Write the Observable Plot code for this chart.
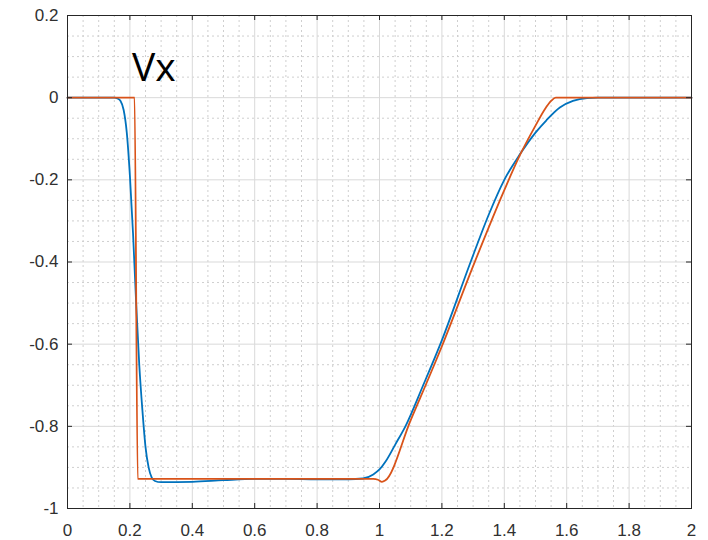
<!DOCTYPE html>
<html>
<head>
<meta charset="utf-8">
<script src="https://cdn.jsdelivr.net/npm/d3@7"></script>
<script src="https://cdn.jsdelivr.net/npm/@observablehq/plot@0.6"></script>
<style>
  html, body { margin: 0; padding: 0; background: #ffffff; }
  #chart { width: 708px; height: 540px; }
</style>
</head>
<body>
<div id="chart"></div>
<script>
// ---- Data ----
const blueX = [0, 0.15, 0.16, 0.17, 0.18, 0.19, 0.20, 0.21, 0.22, 0.23, 0.24, 0.25, 0.26, 0.27, 0.28, 0.30, 0.40, 0.50, 0.60, 0.70, 0.80, 0.90, 0.947, 0.98, 1.00, 1.02, 1.05, 1.083, 1.14, 1.195, 1.292, 1.35, 1.40, 1.45, 1.50, 1.535, 1.578, 1.62, 1.665, 1.70, 2.00];
const blueY = [0, 0, -0.002, -0.008, -0.03, -0.085, -0.19, -0.33, -0.50, -0.65, -0.76, -0.85, -0.90, -0.925, -0.933, -0.936, -0.935, -0.931, -0.928, -0.928, -0.929, -0.929, -0.927, -0.917, -0.905, -0.885, -0.845, -0.80, -0.70, -0.60, -0.40, -0.285, -0.20, -0.138, -0.085, -0.055, -0.024, -0.008, -0.001, 0, 0];

const orangeX = [0, 0.215, 0.225, 0.60, 0.98, 0.995, 1.008, 1.018, 1.10, 1.20, 1.30, 1.40, 1.45, 1.50, 1.53, 1.55, 1.565, 2.00];
const orangeY = [0, 0, -0.928, -0.928, -0.928, -0.930, -0.935, -0.932, -0.785, -0.605, -0.41, -0.225, -0.14, -0.068, -0.028, -0.008, 0, 0];

const xTicks = [0, 0.2, 0.4, 0.6, 0.8, 1, 1.2, 1.4, 1.6, 1.8, 2];
const xTickLabels = ["0", "0.2", "0.4", "0.6", "0.8", "1", "1.2", "1.4", "1.6", "1.8", "2"];
const yTicks = [-1, -0.8, -0.6, -0.4, -0.2, 0, 0.2];
const yTickLabels = ["-1", "-0.8", "-0.6", "-0.4", "-0.2", "0", "0.2"];
const annotation = ["Vx"];

// ---- Build tables ----
const blue = blueX.map((x, i) => ({x, y: blueY[i]}));
const orange = orangeX.map((x, i) => ({x, y: orangeY[i]}));

function minorBetween(ticks) {
  const out = [];
  for (let i = 0; i < ticks.length - 1; i++) {
    const a = ticks[i], b = ticks[i + 1];
    for (let k = 1; k < 4; k++) out.push(a + (b - a) * k / 4);
  }
  return out;
}
const xMinor = minorBetween(xTicks);
const yMinor = minorBetween(yTicks);

const W = 708, H = 540;
const mL = 67, mR = 17, mT = 15, mB = 32;
const innerW = W - mL - mR, innerH = H - mT - mB;
const tickLen = 5;
const axisColor = "#262626";

const chart = Plot.plot({
  width: W,
  height: H,
  marginLeft: mL,
  marginRight: mR,
  marginTop: mT,
  marginBottom: mB,
  x: {domain: [0, 2], label: null},
  y: {domain: [-1, 0.2], label: null},
  style: {fontFamily: "'Liberation Sans', Arial, sans-serif", background: "#ffffff", color: axisColor},
  marks: [
    Plot.ruleX(xMinor, {stroke: "#cfcfcf", strokeDasharray: "2,3", strokeWidth: 1}),
    Plot.ruleY(yMinor, {stroke: "#cfcfcf", strokeDasharray: "2,3", strokeWidth: 1}),
    Plot.ruleX(xTicks, {stroke: "#d9d9d9", strokeWidth: 1}),
    Plot.ruleY(yTicks, {stroke: "#d9d9d9", strokeWidth: 1}),
    Plot.line(blue, {x: "x", y: "y", stroke: "#0072BD", strokeWidth: 1.8, curve: "monotone-x"}),
    Plot.line(orange, {x: "x", y: "y", stroke: "#D95319", strokeWidth: 1.8, curve: "monotone-x"}),
    Plot.tickX(xTicks, {x: d => d, insetTop: innerH - tickLen, stroke: axisColor}),
    Plot.tickX(xTicks, {x: d => d, insetBottom: innerH - tickLen, stroke: axisColor}),
    Plot.tickY(yTicks, {y: d => d, insetRight: innerW - tickLen, stroke: axisColor}),
    Plot.tickY(yTicks, {y: d => d, insetLeft: innerW - tickLen, stroke: axisColor}),
    Plot.frame({stroke: axisColor, strokeWidth: 1}),
    Plot.axisX({ticks: xTicks, tickSize: 0, tickPadding: 15, fontSize: 17, fill: "#303030", label: null,
      tickFormat: d => xTickLabels[xTicks.indexOf(d)]}),
    Plot.axisY({ticks: yTicks, tickSize: 0, tickPadding: 9, fontSize: 17, fill: "#303030", label: null,
      tickFormat: d => yTickLabels[yTicks.indexOf(d)]}),
    Plot.text(annotation, {x: 0.207, y: 0.041, text: d => d, textAnchor: "start", lineAnchor: "bottom",
      fontSize: 39, fill: "#000000", fontFamily: "'Open Sans', 'Liberation Sans', sans-serif"})
  ]
});
document.getElementById("chart").appendChild(chart);
</script>
</body>
</html>
